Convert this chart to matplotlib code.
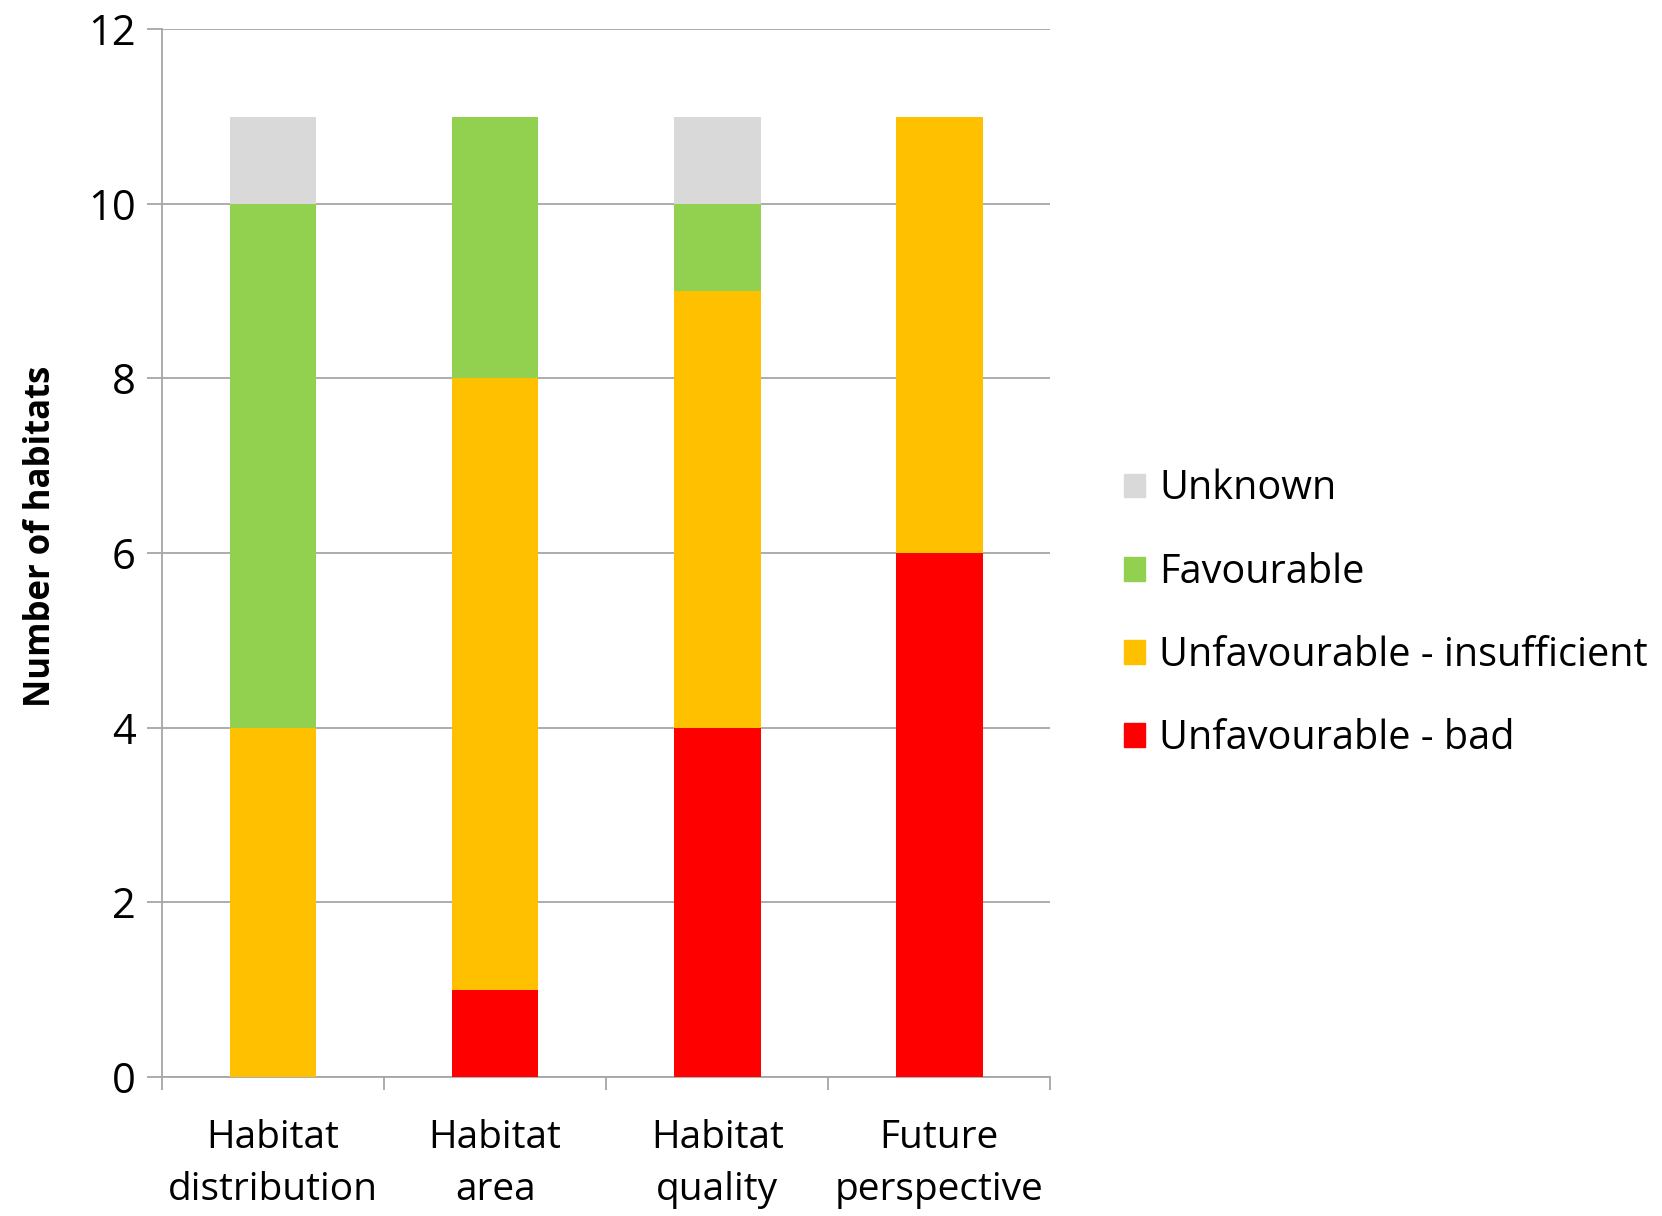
import numpy as np
import matplotlib
matplotlib.use("Agg")
import matplotlib.pyplot as plt
from matplotlib.patches import Patch

plt.rcParams['font.family'] = ['Open Sans', 'DejaVu Sans']

categories = ["Habitat\ndistribution", "Habitat\narea", "Habitat\nquality", "Future\nperspective"]
bad = [0, 1, 4, 6]
insufficient = [4, 7, 5, 5]
favourable = [6, 3, 1, 0]
unknown = [1, 0, 1, 0]

series = [
    ("Unfavourable - bad", bad, "#FF0000"),
    ("Unfavourable - insufficient", insufficient, "#FFC000"),
    ("Favourable", favourable, "#92D050"),
    ("Unknown", unknown, "#D9D9D9"),
]

fig = plt.figure(figsize=(16.62, 12.16), dpi=100)
ax = fig.add_axes([0.0975, 0.1143, 0.5345, 0.8617])

x = np.arange(len(categories))
bottom = np.zeros(len(categories))
for name, vals, col in series:
    ax.bar(x, vals, width=0.39, bottom=bottom, color=col, label=name, zorder=3)
    bottom += np.array(vals)

ax.set_xlim(-0.5, len(categories) - 0.5)
ax.set_ylim(0, 12)
ax.set_yticks(range(0, 13, 2))
ax.yaxis.grid(True, color="#A6A6A6", linewidth=1.3, zorder=0)
ax.tick_params(axis="y", length=11, color="#A6A6A6", width=1.3, labelsize=30, pad=8)

ax.set_xticks(x)
ax.set_xticklabels(categories, fontsize=28, linespacing=1.5)
ax.set_xticks(np.arange(-0.5, len(categories)), minor=True)
ax.tick_params(axis="x", which="major", length=0, pad=30)
ax.tick_params(axis="x", which="minor", length=9, color="#A6A6A6", width=1.3)

for s in ["top", "right"]:
    ax.spines[s].set_visible(False)
for s in ["left", "bottom"]:
    ax.spines[s].set_color("#A6A6A6")
    ax.spines[s].set_linewidth(1.3)

ax.set_ylabel("Number of habitats", fontsize=25, fontweight="bold")
ax.yaxis.set_label_coords(-0.116, 0.516)

handles = [Patch(color=col, label=name) for name, vals, col in reversed(series)]
fig.legend(handles=handles, loc="center left", bbox_to_anchor=(0.676, 0.495),
           frameon=False, fontsize=28.5, handlelength=0.55, handleheight=0.55,
           handletextpad=0.35, labelspacing=1.08, borderaxespad=0, borderpad=0)

fig.savefig("out.png", dpi=100)
